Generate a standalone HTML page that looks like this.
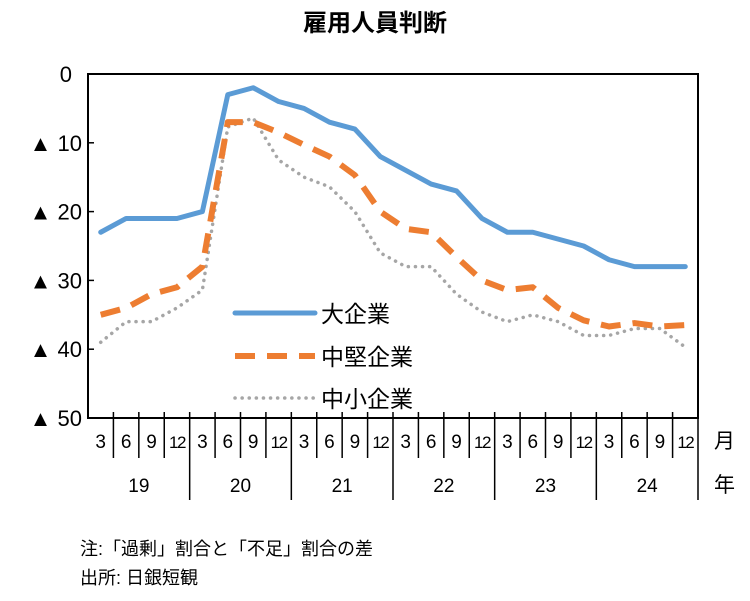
<!DOCTYPE html>
<html><head><meta charset="utf-8"><style>
body{margin:0;background:#fff;}
svg text{font-family:"Liberation Sans","Noto Sans CJK JP",sans-serif;fill:#000;}
</style></head><body>
<svg id="c" width="750" height="596" viewBox="0 0 750 596"></svg>
<script>
const categories=["3","6","9","12","3","6","9","12","3","6","9","12","3","6","9","12","3","6","9","12","3","6","9","12"];
const years=["19","20","21","22","23","24"];
const yTicks=[0,10,20,30,40,50];
const large=[23,21,21,21,20,3,2,4,5,7,8,12,14,16,17,21,23,23,24,25,27,28,28,28];
const medium=[35,34,32,31,28,7,7,8.5,10.3,12,14.7,20,22.5,23,26.6,30,31.4,31,34,35.8,36.7,36.2,36.7,36.5];
const small=[39,36,36,34,31.4,7.7,6.4,12.5,15,16.4,20,26,28,28,32,34.6,36,35,36,38,38,37,37,39.7];
const NS="http://www.w3.org/2000/svg";
const svg=document.getElementById('c');
const L=88,R=698,T=74,B=418;
const colW=(R-L)/categories.length;
const xs=i=>L+colW*(i+0.5);
const ys=v=>T+(B-T)*v/50;
function mk(tag,a,parent){const e=document.createElementNS(NS,tag);for(const k in a)e.setAttribute(k,a[k]);(parent||svg).appendChild(e);return e;}
let t=mk('text',{x:375,y:31,'text-anchor':'middle','font-size':24,'font-weight':'bold'});t.textContent='雇用人員判断';


let f=mk('rect',{x:L,y:T,width:R-L,height:B-T,fill:'none',stroke:'#000','stroke-width':2});


yTicks.forEach(v=>{
  const y=ys(v);
  mk('line',{x1:L,x2:L+6,y1:y,y2:y,stroke:'#000','stroke-width':1.5});
  const tx=mk('text',{x:v===0?72:82,y:y+8,'text-anchor':'end','font-size':22});
  tx.textContent=v===0?'0':'▲ '+v;
  
  
});
categories.forEach((c,i)=>{
  const x=L+colW*i;
  if(i>0){const yr=i%4===0;mk('line',{x1:x,x2:x,y1:B-6,y2:yr?500:458,stroke:'#000','stroke-width':1.5});}
  const tx=mk('text',{x:xs(i),y:448,'text-anchor':'middle','font-size':c.length>1?17:19,'letter-spacing':c.length>1?-1.5:0});
  tx.textContent=c;
  
  
});
mk('line',{x1:R,x2:R,y1:B,y2:500,stroke:'#000','stroke-width':1.5});
years.forEach((y,j)=>{
  const tx=mk('text',{x:L+colW*(j*4+2),y:492,'text-anchor':'middle','font-size':19});
  tx.textContent=y;
  
  
});
t=mk('text',{x:714,y:448,'font-size':21});t.textContent='月';


t=mk('text',{x:714,y:492,'font-size':21});t.textContent='年';


const series=[
 {d:small,c:'#a6a6a6',w:3.5,da:'0.1 7',cap:'round',n:'series-small'},
 {d:medium,c:'#ed7d31',w:6,da:'20 12',cap:'butt',n:'series-medium'},
 {d:large,c:'#5b9bd5',w:5,da:'',cap:'round',n:'series-large'}];
series.forEach(s=>{
  const p=mk('polyline',{points:s.d.map((v,i)=>xs(i)+','+ys(v)).join(' '),fill:'none',stroke:s.c,'stroke-width':s.w,'stroke-dasharray':s.da,'stroke-linecap':s.cap,'stroke-linejoin':'round'});
  
  
});
const leg=[['大企業','#5b9bd5',5,'','round',313],['中堅企業','#ed7d31',6,'20 12','butt',356],['中小企業','#a6a6a6',3.5,'0.1 7','round',398]];
leg.forEach(l=>{
  const g=mk('g',{});
  
  
  mk('line',{x1:235,x2:315,y1:l[5],y2:l[5],stroke:l[1],'stroke-width':l[2],'stroke-dasharray':l[3],'stroke-linecap':l[4]},g);
  const tx=mk('text',{x:321,y:l[5]+9,'font-size':23},g);tx.textContent=l[0];
});
t=mk('text',{x:80,y:555,'font-size':18});t.textContent='注:「過剰」割合と「不足」割合の差';


t=mk('text',{x:80,y:584,'font-size':18});t.textContent='出所: 日銀短観';


</script>
</body></html>
